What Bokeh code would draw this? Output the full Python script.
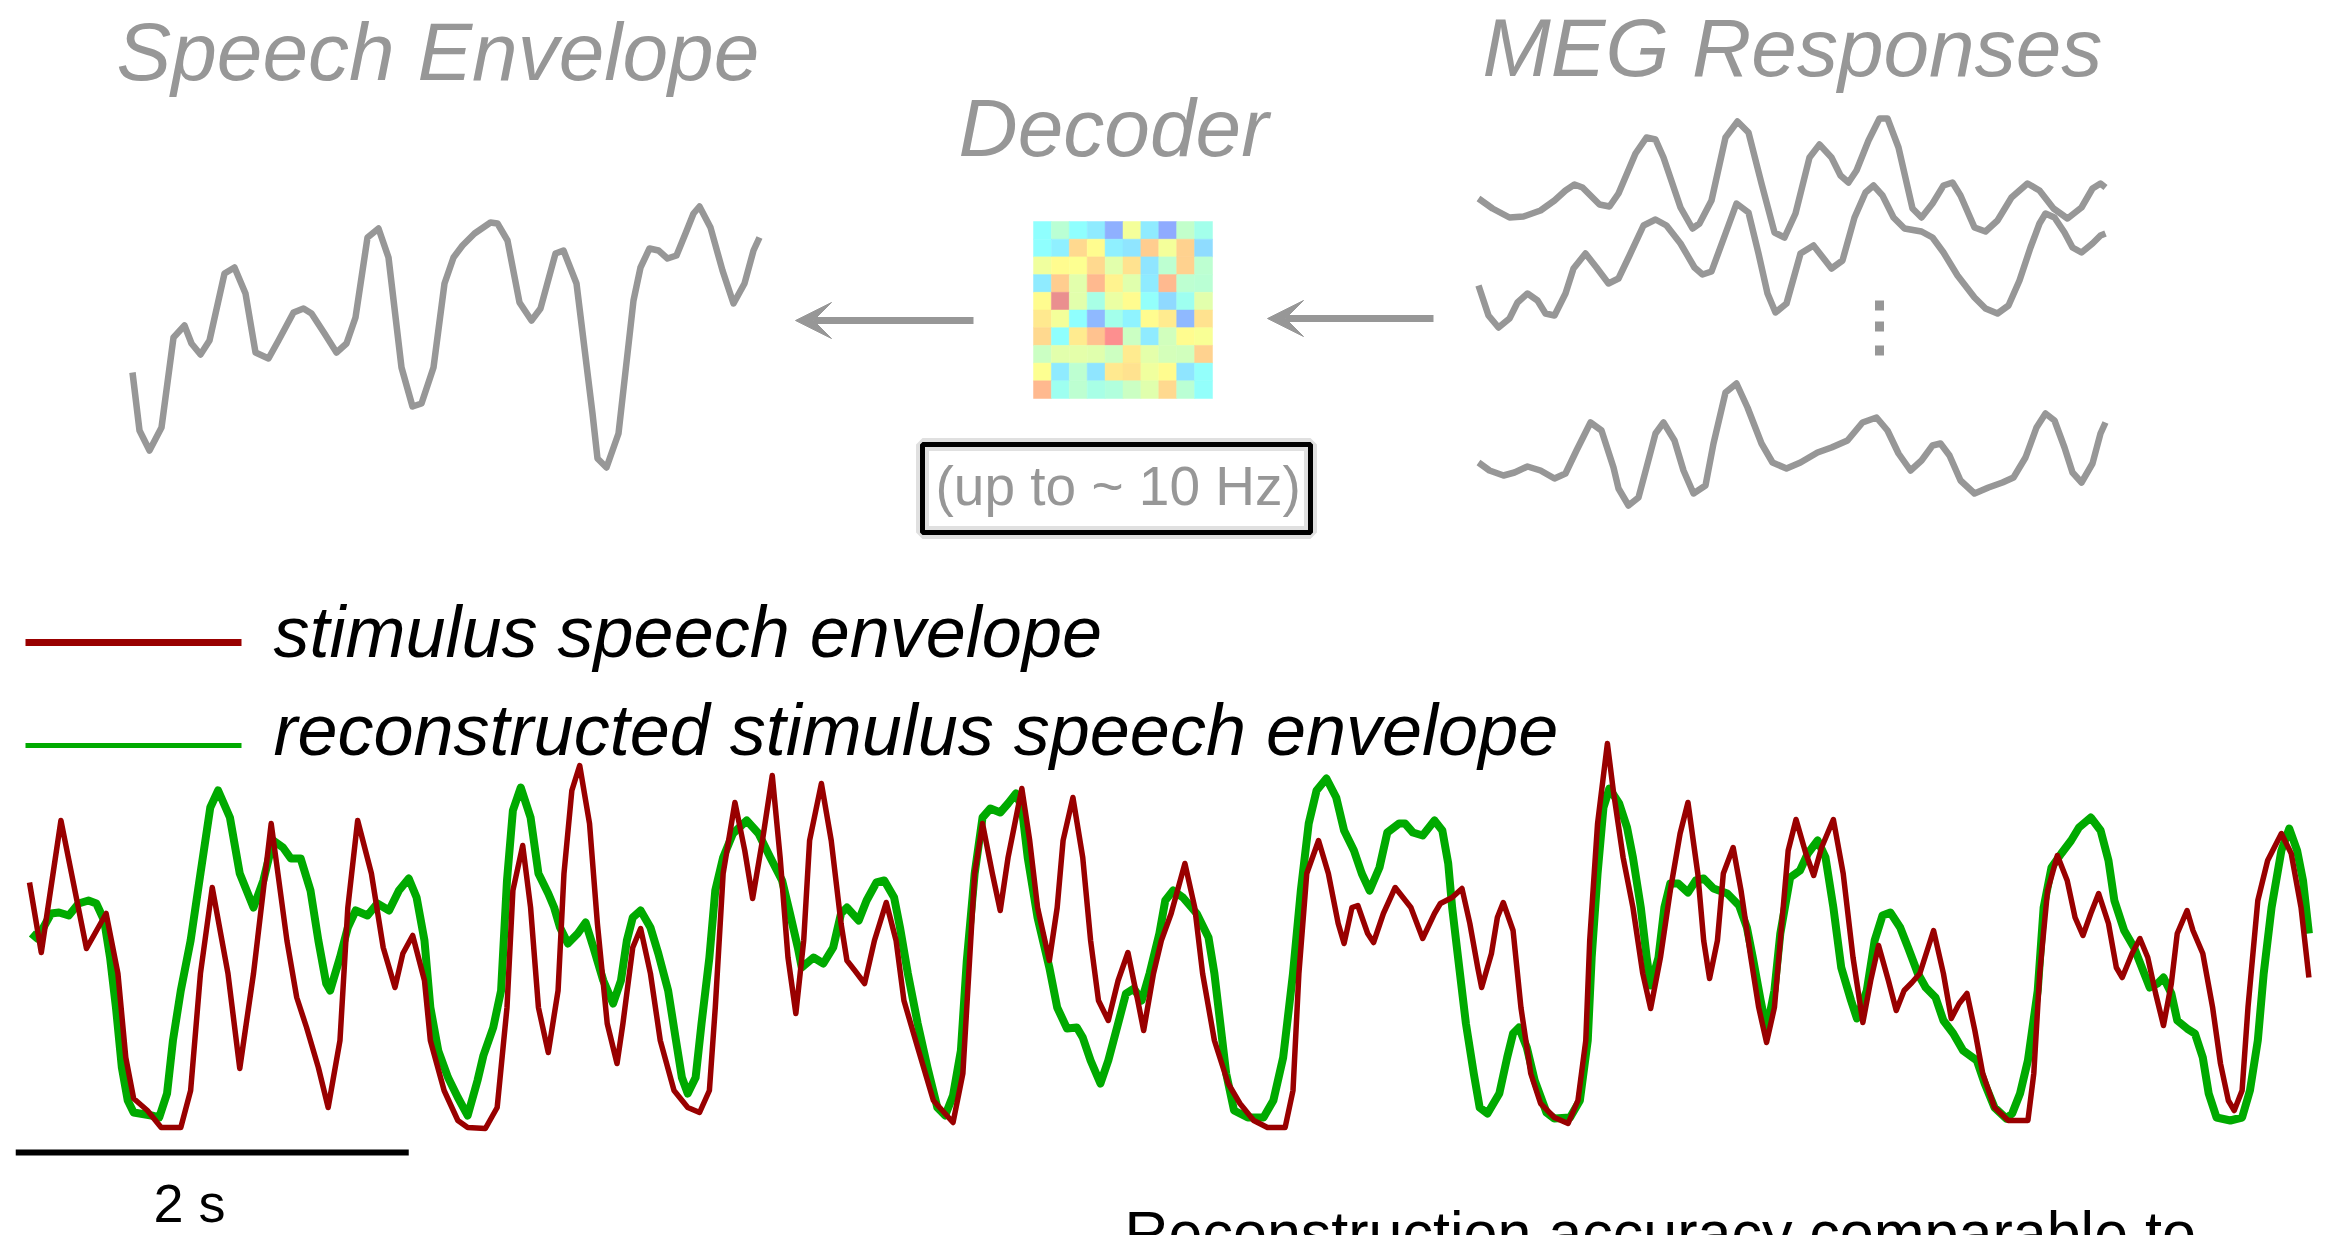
from bokeh.plotting import figure
from bokeh.models import Range1d, ColumnDataSource, Arrow, VeeHead, LinearColorMapper
from bokeh.transform import transform
from bokeh.core.properties import value
from bokeh.embed import file_html
from bokeh.resources import INLINE

W, H = 2329, 1235

# ---------------- data ----------------
# stimulus speech envelope (dark red): time in s, envelope in a.u.
stim_t = [0.00,0.06,0.16,0.29,0.39,0.45,0.49,0.53,0.60,0.67,
          0.77,0.82,0.87,0.93,1.01,1.07,1.14,1.23,1.31,1.36,
          1.41,1.47,1.52,1.58,1.62,1.67,1.74,1.80,1.86,1.90,
          1.95,2.01,2.04,2.11,2.18,2.23,2.32,2.38,2.43,2.46,
          2.51,2.55,2.59,2.64,2.69,2.72,2.76,2.80,2.85,2.89,
          2.94,2.99,3.02,3.07,3.11,3.16,3.21,3.28,3.35,3.41,
          3.46,3.49,3.53,3.59,3.64,3.68,3.73,3.78,3.82,3.86,
          3.90,3.94,3.97,4.03,4.08,4.13,4.16,4.20,4.25,4.30,
          4.36,4.41,4.45,4.52,4.60,4.70,4.75,4.78,4.81,4.85,
          4.90,4.94,4.98,5.05,5.09,5.13,5.19,5.23,5.26,5.31,
          5.36,5.40,5.44,5.49,5.54,5.59,5.64,5.67,5.72,5.76,
          5.81,5.88,5.93,5.97,6.03,6.10,6.16,6.23,6.30,6.39,
          6.43,6.46,6.50,6.56,6.61,6.66,6.69,6.73,6.76,6.81,
          6.84,6.89,6.95,7.03,7.09,7.15,7.18,7.24,7.29,7.33,
          7.37,7.39,7.44,7.47,7.50,7.55,7.59,7.64,7.69,7.76,
          7.83,7.88,7.92,7.94,7.98,8.03,8.06,8.11,8.16,8.21,
          8.25,8.30,8.35,8.40,8.44,8.49,8.52,8.55,8.59,8.62,
          8.67,8.71,8.76,8.80,8.84,8.88,8.91,8.95,8.99,9.04,
          9.08,9.12,9.18,9.23,9.28,9.33,9.37,9.41,9.46,9.50,
          9.54,9.58,9.62,9.69,9.74,9.78,9.82,9.86,9.90,9.94,
          10.00,10.07,10.17,10.20,10.23,10.27,10.32,10.37,10.41,10.45,
          10.49,10.53,10.58,10.62,10.65,10.70,10.74,10.78,10.82,10.86,
          10.90,10.93,10.98,11.01,11.06,11.11,11.15,11.19,11.22,11.26,
          11.29,11.34,11.39,11.46,11.51,11.56,11.60]
stim_env = [24.8,17.8,31.0,18.2,21.7,15.7,7.3,3.2,2.0,0.3,
            0.3,4.0,15.7,24.3,15.7,6.2,15.7,30.7,19.0,13.3,
            10.3,6.3,2.3,9.0,22.3,31.0,25.7,18.3,14.3,17.7,
            19.5,15.0,9.0,4.0,1.0,0.3,0.2,2.3,12.3,24.0,
            28.5,22.3,12.3,7.8,14.0,25.7,34.0,36.5,30.7,20.7,
            10.7,6.7,10.7,18.3,20.2,15.7,9.0,4.0,2.3,1.8,
            4.0,12.3,25.7,32.8,28.0,23.2,29.0,35.5,27.3,17.3,
            11.7,19.0,29.0,34.7,29.0,20.7,17.0,16.0,14.7,19.0,
            22.8,19.0,13.0,8.3,3.0,0.8,5.7,15.7,25.7,30.7,
            25.7,22.0,27.3,34.2,29.0,22.3,17.0,22.3,29.0,33.3,
            27.3,19.0,13.0,11.0,15.0,17.8,13.0,10.0,15.7,19.0,
            21.7,26.7,22.3,15.7,9.0,4.7,2.7,1.0,0.3,0.3,
            4.0,15.7,25.7,29.0,25.7,20.7,18.7,22.3,22.5,19.7,
            18.8,21.7,24.3,22.3,19.2,21.7,22.7,23.3,24.2,20.7,
            16.3,14.3,17.7,21.3,22.8,20.0,12.3,5.7,2.7,1.3,
            0.7,3.0,9.0,19.0,30.7,38.7,34.0,27.3,22.3,15.7,
            12.2,17.3,24.0,29.7,32.8,25.7,19.0,15.2,19.0,25.7,
            28.3,24.0,17.3,12.3,8.8,12.3,19.0,28.0,31.1,27.7,
            25.5,28.3,31.1,25.7,17.3,10.8,15.0,18.5,15.0,12.0,
            14.0,14.8,15.7,20.0,15.7,11.2,12.7,13.7,10.0,5.7,
            2.3,1.0,1.0,5.7,15.7,24.0,27.5,25.0,21.3,19.5,
            21.7,23.7,20.7,16.3,15.3,17.7,19.2,17.3,13.7,10.5,
            14.7,19.7,22.0,20.0,17.7,12.3,6.7,3.0,2.0,4.0,
            12.3,23.0,27.0,29.7,27.7,22.3,15.3]

# reconstructed stimulus speech envelope (green)
recon_t = [0.01,0.04,0.11,0.15,0.20,0.25,0.30,0.34,0.38,0.41,
           0.44,0.47,0.50,0.53,0.62,0.66,0.70,0.73,0.77,0.82,
           0.87,0.92,0.96,1.02,1.07,1.14,1.19,1.24,1.29,1.33,
           1.38,1.43,1.47,1.51,1.53,1.58,1.62,1.66,1.72,1.77,
           1.83,1.88,1.93,1.97,2.01,2.04,2.08,2.13,2.18,2.23,
           2.28,2.31,2.36,2.40,2.43,2.46,2.50,2.55,2.59,2.64,
           2.67,2.70,2.74,2.79,2.83,2.87,2.92,2.97,3.01,3.04,
           3.07,3.11,3.16,3.20,3.25,3.29,3.32,3.35,3.39,3.42,
           3.46,3.49,3.53,3.58,3.65,3.71,3.77,3.83,3.87,3.91,
           3.93,3.99,4.04,4.09,4.13,4.16,4.22,4.26,4.31,4.35,
           4.40,4.43,4.47,4.52,4.57,4.62,4.66,4.70,4.74,4.77,
           4.81,4.85,4.89,4.94,4.98,5.02,5.05,5.08,5.13,5.19,
           5.23,5.28,5.33,5.36,5.40,5.45,5.49,5.54,5.58,5.62,
           5.66,5.70,5.75,5.78,5.82,5.87,5.94,6.00,6.03,6.06,
           6.09,6.13,6.20,6.28,6.33,6.38,6.43,6.47,6.51,6.55,
           6.60,6.65,6.69,6.74,6.78,6.82,6.87,6.91,6.97,7.00,
           7.04,7.09,7.15,7.19,7.22,7.24,7.27,7.31,7.35,7.38,
           7.42,7.48,7.52,7.55,7.58,7.62,7.66,7.72,7.76,7.84,
           7.89,7.93,7.95,7.98,8.01,8.04,8.09,8.13,8.16,8.20,
           8.23,8.25,8.29,8.32,8.35,8.39,8.44,8.48,8.52,8.57,
           8.64,8.70,8.74,8.77,8.81,8.84,8.88,8.91,8.96,9.01,
           9.05,9.10,9.14,9.18,9.22,9.27,9.30,9.35,9.39,9.43,
           9.47,9.52,9.56,9.61,9.65,9.70,9.74,9.79,9.84,9.91,
           9.95,10.00,10.06,10.09,10.13,10.17,10.22,10.25,10.29,10.34,
           10.39,10.43,10.49,10.54,10.58,10.61,10.66,10.71,10.75,10.79,
           10.83,10.86,10.90,10.93,10.98,11.02,11.06,11.09,11.13,11.20,
           11.26,11.30,11.34,11.37,11.41,11.46,11.50,11.54,11.57,11.60]
recon_env = [19.7,19.2,21.7,21.8,21.5,22.7,23.0,22.7,21.0,17.3,
             12.3,6.3,3.0,1.8,1.5,1.3,3.7,9.0,14.0,19.0,
             25.7,32.3,34.0,31.3,25.7,22.3,25.0,29.0,28.3,27.2,
             27.2,24.0,19.0,14.7,14.0,17.3,20.3,22.0,21.5,22.7,
             22.0,24.0,25.2,23.3,19.0,12.3,8.0,5.3,3.3,1.5,
             5.0,7.5,10.3,14.0,25.0,32.0,34.3,31.3,25.7,23.7,
             22.3,20.3,18.7,19.7,20.8,18.3,15.0,12.7,15.0,19.0,
             21.3,22.0,20.3,17.7,14.0,9.0,5.3,3.7,5.3,10.7,
             17.3,24.0,27.3,29.7,31.0,29.7,27.3,25.0,21.7,18.3,
             16.3,17.3,16.7,18.3,21.7,22.3,21.0,23.0,24.8,25.0,
             23.3,20.3,15.7,10.7,6.3,2.3,1.5,3.5,8.0,17.0,
             25.7,31.3,32.2,31.8,32.7,33.7,32.3,27.3,21.3,16.3,
             12.3,10.2,10.3,9.3,7.0,4.7,7.0,10.7,13.7,14.2,
             13.0,15.7,19.7,23.0,24.0,23.3,21.7,19.3,15.7,10.7,
             5.7,2.0,1.3,1.3,3.0,7.3,15.7,24.0,30.7,34.0,
             35.2,33.3,30.0,28.0,25.7,24.0,26.3,29.8,30.7,30.7,
             29.8,29.5,31.0,30.0,26.7,22.3,17.3,10.7,5.7,2.3,
             1.7,3.7,7.3,9.7,10.3,8.3,5.0,1.8,1.2,1.3,
             3.0,9.0,17.3,25.7,32.3,34.2,32.7,30.3,27.3,22.3,
             17.3,14.5,17.3,22.3,24.7,24.7,23.8,25.0,25.2,24.2,
             23.7,22.5,20.3,17.3,13.0,10.0,14.0,19.7,25.3,26.0,
             27.7,29.0,27.3,22.3,16.3,13.0,11.2,14.0,19.0,21.5,
             21.8,20.3,18.3,15.7,14.3,13.3,11.0,9.7,8.0,7.0,
             4.7,2.3,1.2,1.7,3.7,7.0,14.0,22.3,26.3,27.7,
             29.0,30.3,31.3,30.0,27.0,23.0,20.0,18.3,16.3,14.3,
             14.7,15.3,13.7,11.0,10.2,9.7,7.3,3.7,1.3,1.0,
             1.3,4.0,9.0,15.7,22.3,28.0,30.2,28.0,25.0,19.7]

# schematic speech envelope (top left), arbitrary units
env_x = [0,7,17,29,41,52,59,68,77,92,102,113,123,136,146,161,171,179,192,204,
         214,223,235,246,256,269,280,289,301,312,321,330,342,358,365,375,387,399,408,423,
         431,444,460,465,474,486,501,508,517,526,535,544,553,561,567,578,590,601,612,621,627]
env_v = [98,40,20,43,133,145,127,116,130,197,203,177,118,112,130,158,162,157,137,118,
         127,153,233,242,213,103,64,67,103,187,213,225,237,248,247,230,168,150,162,217,
         220,187,57,12,3,37,170,203,222,220,212,215,237,257,264,243,200,167,187,220,233]

# schematic MEG responses (top right), arbitrary units
meg1_x = [0,14,31,45,62,76,87,96,104,121,131,140,157,168,177,185,202,214,221,233,
          247,259,270,283,296,306,317,331,341,353,362,370,378,390,401,409,420,434,443,454,
          465,474,482,496,507,519,533,549,561,575,589,603,614,622,627]
meg1_v = [42,32,23,24,30,40,50,56,53,36,34,47,87,103,101,83,33,12,17,40,
          103,119,108,57,8,3,27,83,96,83,65,58,70,100,122,122,93,32,23,37,
          55,58,45,13,9,20,43,57,50,32,22,33,52,57,53]
meg2_x = [0,10,20,31,39,49,59,67,76,87,95,107,118,130,140,151,165,177,188,202,
          216,224,233,247,258,270,280,289,297,308,322,335,353,364,376,387,395,404,415,426,
          443,454,465,479,496,507,519,530,541,552,561,567,576,586,594,603,614,622,627]
meg2_v = [45,15,3,12,28,37,30,17,15,37,62,77,63,47,52,75,105,111,105,87,
          63,56,59,97,127,118,77,37,18,27,77,85,62,70,113,138,145,135,113,102,
          99,93,78,55,33,22,17,25,50,83,107,117,113,98,83,78,87,95,97]
meg3_x = [0,11,25,36,49,62,76,87,98,112,123,135,140,150,160,168,177,185,196,205,
          215,227,235,247,258,269,283,294,308,322,339,353,369,384,398,409,420,432,443,454,
          462,471,482,496,510,524,535,547,558,567,576,586,594,603,614,622,627]
meg3_v = [48,40,35,38,44,40,32,37,60,88,80,43,22,5,13,43,77,88,70,40,
          17,25,67,118,127,103,67,48,42,48,58,63,70,88,93,80,57,40,50,65,
          67,55,30,17,23,28,33,53,83,97,90,63,38,28,47,77,88]

# decoder weights (normalised 0..1), 10 x 10, row 0 at top
decoder_w = [
    [0.375,0.47,0.375,0.33,0.20,0.60,0.33,0.19,0.49,0.42],
    [0.375,0.34,0.71,0.63,0.34,0.32,0.735,0.60,0.725,0.30],
    [0.59,0.63,0.62,0.71,0.56,0.69,0.32,0.48,0.725,0.48],
    [0.33,0.735,0.56,0.78,0.65,0.555,0.33,0.78,0.48,0.47],
    [0.63,0.92,0.56,0.43,0.58,0.63,0.385,0.29,0.41,0.56],
    [0.675,0.60,0.375,0.22,0.42,0.35,0.63,0.67,0.22,0.69],
    [0.71,0.375,0.67,0.76,0.875,0.51,0.33,0.52,0.63,0.61],
    [0.51,0.56,0.565,0.555,0.515,0.67,0.565,0.53,0.52,0.725],
    [0.62,0.33,0.48,0.32,0.675,0.69,0.59,0.63,0.32,0.385],
    [0.78,0.41,0.48,0.43,0.45,0.51,0.555,0.71,0.47,0.385],
]

titles = ["Speech Envelope", "Decoder", "MEG Responses"]
band_label = "(up to ~ 10 Hz)"
legend_labels = ["stimulus speech envelope", "reconstructed stimulus speech envelope"]
scale_seconds = 2
scale_label = "2 s"
caption = "Reconstruction accuracy comparable to"

# ---------------- styles ----------------
GRAY = "#979797"
RED = "#990000"
GREEN = "#00aa00"
FONT = value("Liberation Sans")
BASELINE_SHIFT = 0.36   # em correction so that the glyph baseline lands on the wanted line


def base(y, size):
    return y - BASELINE_SHIFT * size


def map_range(d0, d1, p0, p1, length, flip=False):
    """Range1d such that data d0 sits at pixel p0 and d1 at pixel p1
    (pixels counted from the left for x, from the top for y)."""
    s = (d1 - d0) / (p1 - p0)
    at0 = d0 + (0 - p0) * s
    atL = d0 + (length - p0) * s
    return Range1d(start=atL, end=at0) if flip else Range1d(start=at0, end=atL)


p = figure(width=W, height=H, output_backend="svg", toolbar_location=None,
           x_range=Range1d(0, W), y_range=Range1d(H, 0),
           x_axis_location=None, y_axis_location=None, min_border=0)
p.outline_line_color = None
p.background_fill_color = "white"
p.border_fill_color = "white"
p.xgrid.visible = False
p.ygrid.visible = False

p.extra_x_ranges = {
    "time": map_range(0, 2, 29, 29 + 393, W),
    "env": map_range(0, 627, 132, 759, W),
    "meg": map_range(0, 627, 1478, 2105, W),
    "dec": map_range(0, 10, 1033, 1212, W),
}
p.extra_y_ranges = {
    "amp": map_range(0, 10, 1130, 1030, H, flip=True),
    "env": map_range(0, 264, 470, 206, H, flip=True),
    "meg": map_range(0, 100, 510, 410, H, flip=True),
    "dec": map_range(0, 10, 221, 398, H, flip=True),
}

# ---------------- top: schematic ----------------
p.text(x=[116, 958, 1482], y=[base(81, 82), base(157, 82), base(77, 82)], text=titles,
       text_font=FONT, text_font_size=value("82px"), text_font_style="italic",
       text_color=GRAY, text_baseline="alphabetic", text_align="left")

p.line(env_x, env_v, x_range_name="env", y_range_name="env",
       line_color=GRAY, line_width=6.5, line_join="round")

meg_offsets = [270, 180, 0]
for xs, vs, off in [(meg1_x, meg1_v, meg_offsets[0]),
                    (meg2_x, meg2_v, meg_offsets[1]),
                    (meg3_x, meg3_v, meg_offsets[2])]:
    p.line(xs, [v + off for v in vs], x_range_name="meg", y_range_name="meg",
           line_color=GRAY, line_width=6.5, line_join="round")

# vertical ellipsis between channels
p.rect(x=[1879, 1879, 1879], y=[305, 326, 350], width=9, height=10,
       fill_color=GRAY, line_color=None)

# decoder matrix with a pale jet palette
def jet(v):
    r = min(1, max(0, 1.5 - abs(4 * v - 3)))
    g = min(1, max(0, 1.5 - abs(4 * v - 2)))
    b = min(1, max(0, 1.5 - abs(4 * v - 1)))
    return r, g, b

palette = []
for i in range(256):
    r, g, b = jet(i / 255)
    a = 0.44
    pr, pg, pb = (1 - a * (1 - c) for c in (r, g, b))
    palette.append("#%02x%02x%02x" % (round(pr * 255), round(pg * 255), round(pb * 255)))
mapper = LinearColorMapper(palette=palette, low=0, high=1)

cx, cy, cw = [], [], []
for r, row in enumerate(decoder_w):
    for c, w in enumerate(row):
        cx.append(c + 0.5)
        cy.append(r + 0.5)
        cw.append(w)
dsrc = ColumnDataSource(dict(x=cx, y=cy, w=cw))
p.rect(x="x", y="y", width=1, height=1, source=dsrc,
       x_range_name="dec", y_range_name="dec",
       fill_color=transform("w", mapper), line_color=transform("w", mapper), line_width=0.5)

# arrows
p.add_layout(Arrow(end=VeeHead(size=36, fill_color=GRAY, line_color=GRAY, line_width=1),
                   x_start=973, y_start=320, x_end=795, y_end=320,
                   line_color=GRAY, line_width=7))
p.add_layout(Arrow(end=VeeHead(size=36, fill_color=GRAY, line_color=GRAY, line_width=1),
                   x_start=1433, y_start=318, x_end=1267, y_end=318,
                   line_color=GRAY, line_width=7))

# frequency box
p.quad(left=[922], right=[1310], top=[444], bottom=[532], fill_color=None,
       line_color="black", line_alpha=0.12, line_width=13)
p.quad(left=[922], right=[1310], top=[444], bottom=[532], fill_color=None,
       line_color="black", line_width=5)
p.text(x=[935], y=[base(505, 55)], text=[band_label], text_font=FONT,
       text_font_size=value("55px"), text_color=GRAY,
       text_baseline="alphabetic", text_align="left")

# ---------------- bottom: envelopes ----------------
p.line(recon_t, recon_env, x_range_name="time", y_range_name="amp",
       line_color=GREEN, line_width=8, line_join="round")
p.line(stim_t, stim_env, x_range_name="time", y_range_name="amp",
       line_color=RED, line_width=5.5, line_join="round")

# legend
p.segment(x0=[25, 25], y0=[642, 745], x1=[241, 241], y1=[642, 745],
          line_color=[RED, GREEN], line_width=[7, 5])
p.text(x=[273, 273], y=[base(657, 72), base(755, 72)], text=legend_labels, text_font=FONT,
       text_font_size=value("72px"), text_font_style="italic",
       text_color="black", text_baseline="alphabetic", text_align="left")

# scale bar (2 s)
p.segment(x0=[-0.07], y0=[-2.2], x1=[-0.07 + scale_seconds], y1=[-2.2],
          x_range_name="time", y_range_name="amp",
          line_color="black", line_width=6)
p.text(x=[153], y=[base(1222, 54)], text=[scale_label], text_font=FONT,
       text_font_size=value("54px"), text_color="black",
       text_baseline="alphabetic", text_align="left")

p.text(x=[1124], y=[base(1254, 61)], text=[caption], text_font=FONT,
       text_font_size=value("61px"), text_color="black",
       text_baseline="alphabetic", text_align="left")

open("out.html", "w").write(file_html(p, INLINE))
